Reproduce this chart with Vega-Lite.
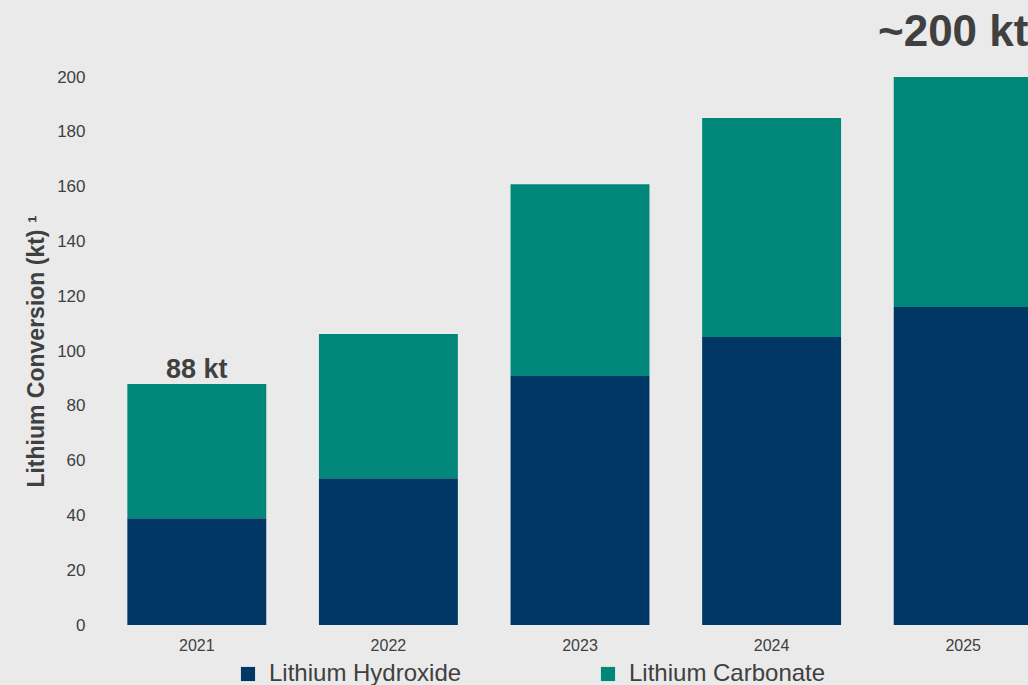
{
  "$schema": "https://vega.github.io/schema/vega-lite/v6.json",
  "width": 958,
  "height": 548,
  "autosize": {"type": "none"},
  "padding": {"left": 101, "top": 77, "right": 0, "bottom": 60},
  "background": "#EAEAEA",
  "config": {"view": {"stroke": null}, "font": "Liberation Sans"},
  "layer": [
    {
      "data": {
        "values": [
          {"year": "2021", "product": "Lithium Hydroxide", "value": 39},
          {"year": "2021", "product": "Lithium Carbonate", "value": 49},
          {"year": "2022", "product": "Lithium Hydroxide", "value": 53.6},
          {"year": "2022", "product": "Lithium Carbonate", "value": 52.6},
          {"year": "2023", "product": "Lithium Hydroxide", "value": 90.9},
          {"year": "2023", "product": "Lithium Carbonate", "value": 70},
          {"year": "2024", "product": "Lithium Hydroxide", "value": 105.1},
          {"year": "2024", "product": "Lithium Carbonate", "value": 79.9},
          {"year": "2025", "product": "Lithium Hydroxide", "value": 116.1},
          {"year": "2025", "product": "Lithium Carbonate", "value": 83.9}
        ]
      },
      "mark": {"type": "bar"},
      "encoding": {
        "x": {
          "field": "year", "type": "nominal",
          "scale": {"paddingInner": 0.275, "paddingOuter": 0.1375},
          "axis": {"title": null, "labelAngle": 0, "ticks": false, "domain": false, "labelFontSize": 16, "labelColor": "#404040", "labelPadding": 12}
        },
        "y": {
          "field": "value", "type": "quantitative", "stack": "zero",
          "scale": {"domain": [0, 200], "nice": false},
          "axis": {
            "title": "Lithium Conversion (kt) ¹", "titleFontSize": 23, "titleFontWeight": "bold", "titleColor": "#404040", "titlePadding": 8,
            "values": [0, 20, 40, 60, 80, 100, 120, 140, 160, 180, 200],
            "grid": false, "ticks": false, "domain": false, "labelFontSize": 17, "labelColor": "#404040", "labelPadding": 16
          }
        },
        "color": {
          "field": "product", "type": "nominal",
          "scale": {"domain": ["Lithium Hydroxide", "Lithium Carbonate"], "range": ["#003764", "#00877A"]},
          "legend": {
            "title": null, "orient": "none", "direction": "horizontal", "legendX": 135, "legendY": 585,
            "symbolType": "square", "symbolSize": 200, "symbolStrokeWidth": 0, "labelFontSize": 24, "labelColor": "#404040",
            "columnPadding": 134, "labelLimit": 400, "labelOffset": 9
          }
        },
        "order": {"field": "product", "sort": "descending"}
      }
    },
    {
      "data": {"values": [{"year": "2021", "label": "88 kt", "value": 88}]},
      "mark": {"type": "text", "fontSize": 27, "fontWeight": "bold", "color": "#404040", "baseline": "alphabetic", "dy": -6},
      "encoding": {
        "x": {"field": "year", "type": "nominal"},
        "y": {"field": "value", "type": "quantitative"},
        "text": {"field": "label"}
      }
    },
    {
      "data": {"values": [{"year": "2025", "label": "~200 kt", "value": 200}]},
      "mark": {"type": "text", "fontSize": 44, "fontWeight": "bold", "color": "#404040", "baseline": "alphabetic", "dy": -31, "dx": -10},
      "encoding": {
        "x": {"field": "year", "type": "nominal"},
        "y": {"field": "value", "type": "quantitative"},
        "text": {"field": "label"}
      }
    }
  ]
}
